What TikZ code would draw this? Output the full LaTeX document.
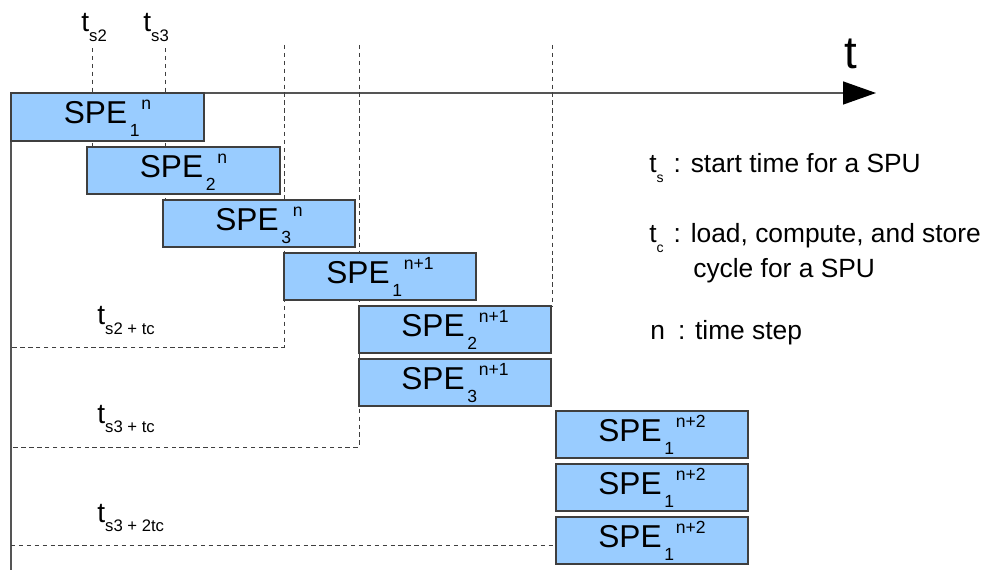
\documentclass[tikz,border=0pt]{standalone}
\usepackage{fontspec}
\setmainfont{Liberation Sans}
\usetikzlibrary{fit,positioning,calc,arrows.meta}

\definecolor{speblue}{HTML}{99CCFF}
\definecolor{edgegray}{HTML}{3F3F3F}
\definecolor{axisgray}{HTML}{555555}
\newcommand{\spe}[2]{SPE\kern1.5pt\raisebox{-0.26cm}{\fontsize{10}{12}\selectfont #1}\kern1pt\raisebox{0.27cm}{\fontsize{10}{12}\selectfont #2}}
\newcommand{\tsub}[1]{t\raisebox{-0.2cm}{\fontsize{9.5}{11}\selectfont #1}}
\newcommand{\legsub}[1]{t\raisebox{-0.2cm}{\fontsize{8}{9}\selectfont #1}}

\tikzset{
  spebox/.style={fill=speblue, draw=edgegray, line width=0.8pt, inner sep=0pt},
  spetext/.style={anchor=base, inner sep=0pt, font=\fontsize{18}{20}\selectfont},
  timeline/.style={draw=edgegray, line width=0.5pt, dash pattern=on 2.5pt off 2pt},
  tlabel/.style={anchor=base west, inner sep=0pt, font=\fontsize{16}{18}\selectfont},
  legend/.style={anchor=base west, inner sep=0pt, font=\fontsize{15}{17}\selectfont}
}

\begin{document}
\begin{tikzpicture}[x=0.02cm, y=-0.02cm]
  \useasboundingbox (0,0) rectangle (983,570);

  \coordinate (origin) at (11,93);
  \coordinate (tend) at (876,93);
  \coordinate (vend) at (11,570);

  % time axes
  \draw[axisgray, line width=0.8pt] (origin) -- (vend);
  \draw[axisgray, line width=0.8pt,
    -{Triangle[length=0.66cm, width=0.46cm, fill=black, color=black]}]
    (origin) -- (tend);
  \node[anchor=base west, inner sep=0pt, font=\fontsize{26}{28}\selectfont]
    (tlab) at (844,69) {t};

  % start and cycle marks
  \draw[timeline] (92,48) -- (92,147);
  \draw[timeline] (165,48) -- (165,200);
  \draw[timeline] (284,45) -- (284,347) -- (11,347);
  \draw[timeline] (359,45) -- (359,447) -- (11,447);
  \draw[timeline] (552,45) -- (552,306);
  \draw[timeline] (11,545) -- (556,545);

  \node[tlabel] (ts2) at (81,32) {\tsub{s2}};
  \node[tlabel] (ts3) at (143,32) {\tsub{s3}};
  \node[tlabel] (ts2tc) at (97,325) {\tsub{s2 + tc}};
  \node[tlabel] (ts3tc) at (97,423) {\tsub{s3 + tc}};
  \node[tlabel] (ts32tc) at (97,522) {\tsub{s3 + 2tc}};

  % SPE blocks
  \node[spebox, fit={(11,93) (204,141)}] (b1) {};
  \node[spetext] (b1t) at ($(b1.north)+(0,31)$) {\spe{1}{n}};
  \node[spebox, fit={(87,147) (280,194)}] (b2) {};
  \node[spetext] (b2t) at ($(b2.north)+(0,31)$) {\spe{2}{n}};
  \node[spebox, fit={(163,200) (355,247)}] (b3) {};
  \node[spetext] (b3t) at ($(b3.north)+(0,31)$) {\spe{3}{n}};
  \node[spebox, fit={(284,253) (476,300)}] (b4) {};
  \node[spetext] (b4t) at ($(b4.north)+(0,31)$) {\spe{1}{n+1}};
  \node[spebox, fit={(359,306) (551,353)}] (b5) {};
  \node[spetext] (b5t) at ($(b5.north)+(0,31)$) {\spe{2}{n+1}};
  \node[spebox, fit={(359,359) (551,406)}] (b6) {};
  \node[spetext] (b6t) at ($(b6.north)+(0,31)$) {\spe{3}{n+1}};
  \node[spebox, fit={(556,411) (748,458)}] (b7) {};
  \node[spetext] (b7t) at ($(b7.north)+(0,31)$) {\spe{1}{n+2}};
  \node[spebox, fit={(556,464) (748,511)}] (b8) {};
  \node[spetext] (b8t) at ($(b8.north)+(0,31)$) {\spe{1}{n+2}};
  \node[spebox, fit={(556,517) (748,564)}] (b9) {};
  \node[spetext] (b9t) at ($(b9.north)+(0,31)$) {\spe{1}{n+2}};

  % legend
  \node[legend] (legs) at (649,173) {\legsub{s}\hspace{0.2cm}: start time for a SPU};
  \node[legend] (legc) at (649,243) {\legsub{c}\hspace{0.2cm}: load, compute, and store};
  \node[legend] (legc2) at (693,278) {cycle for a SPU};
  \node[legend] (legn) at (650,340) {n\hspace{0.26cm}: time step};
\end{tikzpicture}
\end{document}
